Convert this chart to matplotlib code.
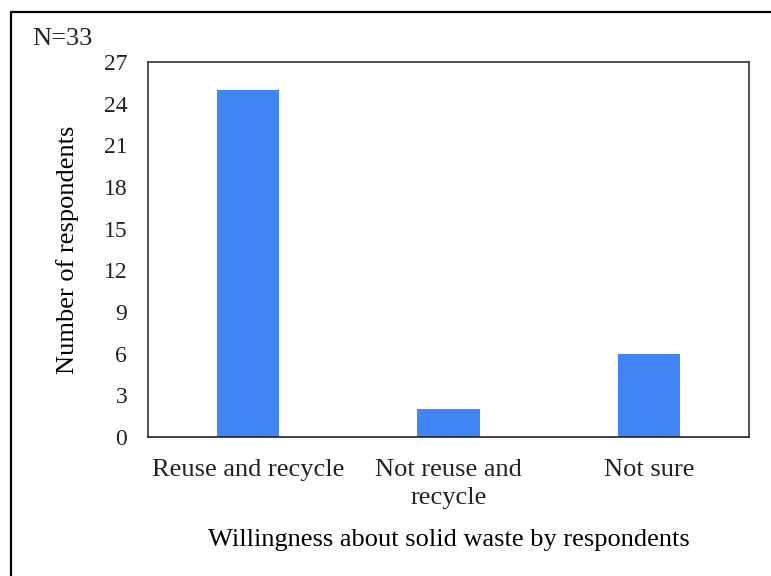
import matplotlib.pyplot as plt
from matplotlib.patches import Rectangle

plt.rcParams['font.family'] = ['Liberation Serif', 'DejaVu Serif']

categories = ['Reuse and recycle', 'Not reuse and\nrecycle', 'Not sure']
counts = [25, 2, 6]
yticks = [0, 3, 6, 9, 12, 15, 18, 21, 24, 27]

W, H = 771, 576
fig = plt.figure(figsize=(W / 100, H / 100), dpi=100)
ax = fig.add_axes([148 / W, 1 - 437 / H, (749 - 148) / W, (437 - 62) / H])

x = range(len(categories))
ax.bar(x, counts, width=0.31, color='#4285F4')
ax.set_xlim(-0.5, 2.5)
ax.set_ylim(0, 27)
ax.set_yticks(yticks)
ax.set_xticks(list(x))
ax.set_xticklabels(categories, fontsize=19, color='#222222', linespacing=1.35)
ax.tick_params(axis='x', length=0, pad=16)
ax.tick_params(axis='y', length=0, labelsize=17, labelcolor='#222222', pad=15)
for s in ax.spines.values():
    s.set_linewidth(1.2)
    s.set_color('#333333')
ax.spines['bottom'].set_color('#222222')

ax.set_ylabel('Number of respondents', fontsize=19, labelpad=18)
ax.set_xlabel('Willingness about solid waste by respondents', fontsize=19, labelpad=14)

fig.text(32 / W, 1 - 39 / H, 'N=33', fontsize=19, va='center', ha='left', color='#222222')

fig.patches.append(Rectangle((11 / W, -0.1), 1.2, 1 - 12 / H + 0.1, transform=fig.transFigure,
                             fill=False, edgecolor='black', linewidth=1.6, zorder=10))

fig.savefig('out.png', dpi=100)
